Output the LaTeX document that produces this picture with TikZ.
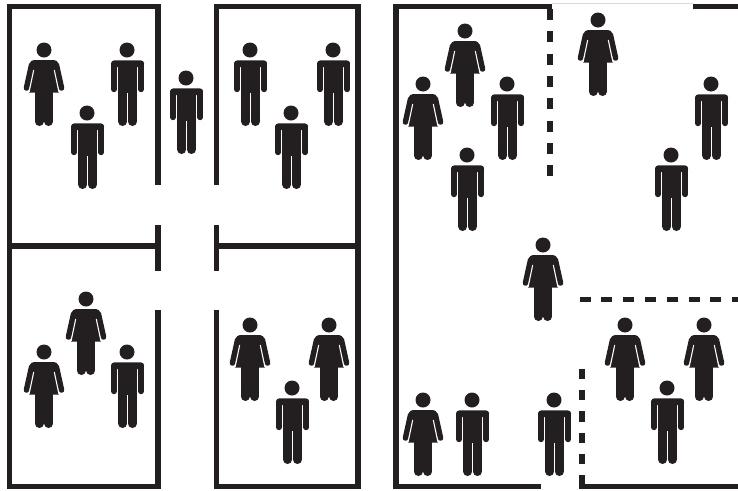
\documentclass[tikz,border=0pt]{standalone}
\usepackage{tikz}
\definecolor{ink}{HTML}{231F20}
\tikzset{
  wall/.style={ink,line width=3.9pt},
  partition/.style={ink,line width=3.9pt,dash pattern=on 8.25pt off 8.5pt},
  arm/.style={ink,line width=4.2pt,line cap=round},
  slit/.style={white,line width=0.8pt},
  leg/.style={ink,line width=6.6pt,line cap=round},
  man/.pic={
    \fill[ink] (0,0) circle (7.5);
    \fill[ink,rounded corners=2.5pt] (-15.9,17) -- (-15.9,10.3) -- (17.1,10.3) -- (17.1,17) -- cycle;
    \fill[ink] (-8.7,12) rectangle (9.9,43);
    \draw[arm,line width=4.5pt] (-13,14) -- (-13,39.2);
    \draw[arm,line width=4.5pt] (14.2,14) -- (14.2,39.2);
    \draw[leg] (-4.2,40) -- (-4.2,71.6);
    \draw[leg] (5.4,40) -- (5.4,71.6);
  },
  woman/.pic={
    \fill[ink] (0,0) circle (7.5);
    \fill[ink,rounded corners=3pt] (-15,21) -- (-14,10) -- (14,10) -- (15,21) -- cycle;
    \fill[ink] (-10.5,12) -- (10.5,12) -- (14.9,42.7) -- (-14.9,42.7) -- cycle;
    \draw[arm] (-12.4,15) -- (-17.5,38);
    \draw[arm] (12.4,15) -- (17.5,38);
    \draw[slit] (-10.3,20) -- (-14.9,42);
    \draw[slit] (10.3,20) -- (14.9,42);
    \draw[leg] (-4.8,40) -- (-4.8,71.6);
    \draw[leg] (4.8,40) -- (4.8,71.6);
  }
}
\begin{document}
\begin{tikzpicture}[x=0.75pt,y=-0.75pt]
\useasboundingbox (0,0) rectangle (738,490);

\draw[wall] (158,185) -- (158,6.5) -- (9.5,6.5) -- (9.5,486.5) -- (158,486.5) -- (158,310);
\draw[wall] (216.5,185) -- (216.5,6.5) -- (358,6.5) -- (358,486.5) -- (216.5,486.5) -- (216.5,310);
\draw[wall] (158,225) -- (158,271);
\draw[wall] (216.5,225) -- (216.5,271);
\draw[wall] (9.5,246) -- (158,246);
\draw[wall] (216.5,246) -- (358,246);

\draw[wall] (552,6.5) -- (396,6.5) -- (396,486.5) -- (541,486.5);
\draw[wall] (693,6.5) -- (738,6.5);
\draw[gray!30,line width=0.5pt] (552,3.5) -- (693,3.5);
\draw[wall] (582,475) -- (582,486.5) -- (738,486.5);
\draw[partition] (550,9) -- (550,177);
\draw[partition,dash pattern=on 8.25pt off 8.1pt] (579.5,299.5) -- (738,299.5);
\draw[partition,dash pattern=on 7.8pt off 8.2pt] (582,368.5) -- (582,465);

\pic at (44,50) {woman};
\pic at (127,50) {man};
\pic at (87,113) {man};
\pic at (186,78) {man};
\pic at (250,50) {man};
\pic at (333,50) {man};
\pic at (291,113) {man};
\pic at (86,299) {woman};
\pic at (44,352) {woman};
\pic at (127,352) {man};
\pic at (250,325) {woman};
\pic at (329,325) {woman};
\pic at (292,388) {man};
\pic at (465,31) {woman};
\pic at (423,84) {woman};
\pic at (507,84) {man};
\pic at (467,155) {man};
\pic at (598,20) {woman};
\pic at (711,84) {man};
\pic at (671,155) {man};
\pic at (543,245) {woman};
\pic at (625,325) {woman};
\pic at (704,325) {woman};
\pic at (667,388) {man};
\pic at (423,400) {woman};
\pic at (472,400) {man};
\pic at (554,400) {man};
\end{tikzpicture}
\end{document}
